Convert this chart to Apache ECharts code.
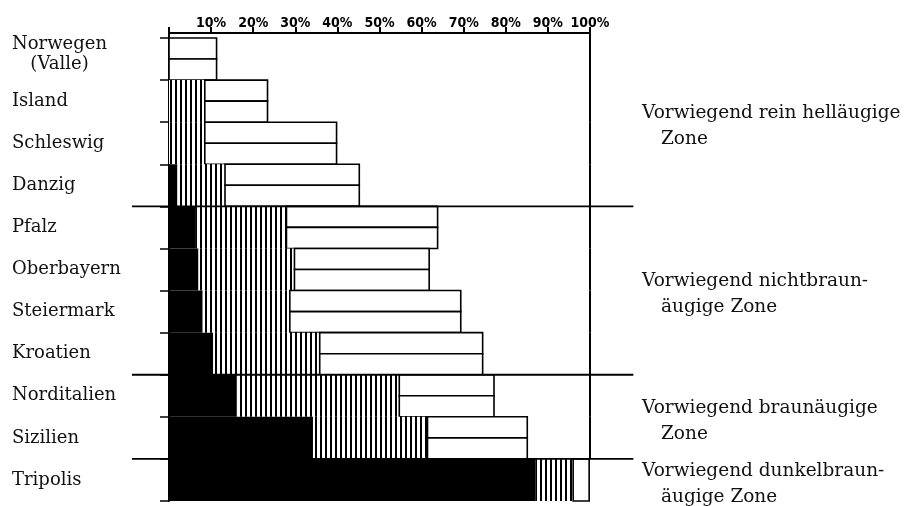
<!DOCTYPE html>
<html>
<head>
<meta charset="utf-8">
<script src="https://cdn.jsdelivr.net/npm/echarts@6/dist/echarts.min.js"></script>
<style>
html,body{margin:0;padding:0;background:#fff;}
#chart{width:915px;height:506px;}
</style>
</head>
<body>
<div id="chart"></div>
<script>
// ---- data ----
const categories = ['Norwegen\n(Valle)', 'Island', 'Schleswig', 'Danzig', 'Pfalz', 'Oberbayern', 'Steiermark', 'Kroatien', 'Norditalien', 'Sizilien', 'Tripolis'];
const darkEyed  = [0,    0,    0,    2,    6.2,  7,    8,    10.5, 16,   34.2, 87];
const mixedEyed = [0,    8.5,  8.5,  11.3, 21.7, 22.8, 20.7, 25.3, 38.7, 27.2, 9];
const lightEyed = [11.3, 14.9, 31.3, 31.9, 35.9, 32,   40.6, 38.7, 22.5, 23.7, 3.8];
const lightBoxes = [2, 2, 2, 2, 2, 2, 2, 2, 2, 2, 1];
const tickLabels = ['', '10%', '20%', '30%', '40%', '50%', '60%', '70%', '80%', '90%', '100%'];
const zoneLine1 = ['Vorwiegend rein helläugige', 'Vorwiegend nichtbraun-', 'Vorwiegend braunäugige', 'Vorwiegend dunkelbraun-'];
const zoneLine2 = ['Zone', 'äugige Zone', 'Zone', 'äugige Zone'];
const zoneFirstRow = [0, 4, 8, 10];
const zoneLastRow  = [3, 7, 9, 10];

// ---- hatch pattern ----
const pc = document.createElement('canvas');
pc.width = 5; pc.height = 8;
const pctx = pc.getContext('2d');
pctx.fillStyle = '#fff'; pctx.fillRect(0, 0, 5, 8);
pctx.fillStyle = '#000'; pctx.fillRect(0, 0, 2, 8);
const hatch = { image: pc, repeat: 'repeat' };

const serif = "'DejaVu Serif', 'Liberation Serif', serif";
const rowData = categories.map((c, i) => [i, darkEyed[i], mixedEyed[i], lightEyed[i], lightBoxes[i]]);

function renderItem(params, api) {
  const i = api.value(0);
  const d = api.value(1), m = api.value(2), l = api.value(3), nb = api.value(4);
  const band = api.size([0, 1])[1];
  const yc = api.coord([0, i])[1];
  const top = yc - band / 2, bot = yc + band / 2;
  const X = v => api.coord([v, i])[0];
  const children = [];
  if (d > 0) children.push({ type: 'rect', shape: { x: X(0), y: top, width: X(d) - X(0), height: band }, style: { fill: '#000' } });
  if (m > 0) children.push({ type: 'rect', shape: { x: X(d), y: top, width: X(d + m) - X(d), height: band }, style: { fill: hatch } });
  if (l > 0) {
    const h = band / nb;
    for (let k = 0; k < nb; k++) {
      children.push({ type: 'rect', shape: { x: X(d + m), y: top + k * h, width: X(d + m + l) - X(d + m), height: h },
        style: { fill: '#fff', stroke: '#000', lineWidth: 1.6 } });
    }
  }
  // right frame line (100%)
  if (i < categories.length - 1) {
    children.push({ type: 'line', shape: { x1: X(100), y1: i === 0 ? top - 5 : top, x2: X(100), y2: bot }, style: { stroke: '#000', lineWidth: 2 } });
  }
  if (i === 0) {
    children.push({ type: 'line', shape: { x1: X(0), y1: top - 8, x2: X(0), y2: top }, style: { stroke: '#000', lineWidth: 2 } });
  }
  const z = zoneFirstRow.indexOf(i);
  if (z >= 0) {
    if (i > 0) {
      children.push({ type: 'line', shape: { x1: X(-8.8), y1: top, x2: X(110.3), y2: top }, style: { stroke: '#000', lineWidth: 1.8 } });
    }
    const lastC = api.coord([0, zoneLastRow[z]])[1] + band / 2;
    const mid = (top + lastC) / 2 + 4;
    children.push({ type: 'text', style: { text: zoneLine1[z], x: X(100) + 52, y: mid - 13, font: '18.5px ' + serif, fill: '#111', textVerticalAlign: 'middle', textAlign: 'left' } });
    children.push({ type: 'text', style: { text: zoneLine2[z], x: X(100) + 71, y: mid + 13, font: '18.5px ' + serif, fill: '#111', textVerticalAlign: 'middle', textAlign: 'left' } });
  }
  return { type: 'group', children };
}

const chart = echarts.init(document.getElementById('chart'), null, { renderer: 'canvas' });
chart.setOption({
  animation: false,
  backgroundColor: '#fff',
  grid: { left: 169, right: 325, top: 38, bottom: 5, containLabel: false },
  xAxis: {
    type: 'value', position: 'top', min: 0, max: 100, interval: 10, offset: 5,
    axisLine: { show: true, lineStyle: { color: '#000', width: 2 } },
    axisTick: { show: true, length: 6, lineStyle: { color: '#000', width: 2 } },
    axisLabel: { formatter: v => tickLabels[Math.round(v / 10)], color: '#000', fontSize: 14, fontWeight: 'bold',
      fontFamily: "'DejaVu Sans Condensed', 'Liberation Sans Narrow', sans-serif", margin: 3 },
    splitLine: { show: false }
  },
  yAxis: [{
    type: 'category', data: categories, inverse: true,
    axisLine: { show: true, lineStyle: { color: '#000', width: 2 } },
    axisTick: { show: true, length: 9, lineStyle: { color: '#000', width: 1.5 } },
    axisLabel: {
      align: 'left', margin: 157, color: '#111', fontSize: 18, fontFamily: serif,
      formatter: v => v.indexOf('\n') >= 0 ? v.split('\n').map(s => '{c|' + s + '}').join('\n') + '\n{e| }' : v,
      rich: {
        c: { align: 'center', fontSize: 18, fontFamily: serif, color: '#111', lineHeight: 20 },
        e: { fontSize: 1, lineHeight: 10 }
      }
    },
    splitLine: { show: false }
  }],
  series: [{
    type: 'custom', renderItem, clip: false,
    encode: { x: [1, 2, 3], y: 0 },
    data: rowData
  }]
});
</script>
</body>
</html>
